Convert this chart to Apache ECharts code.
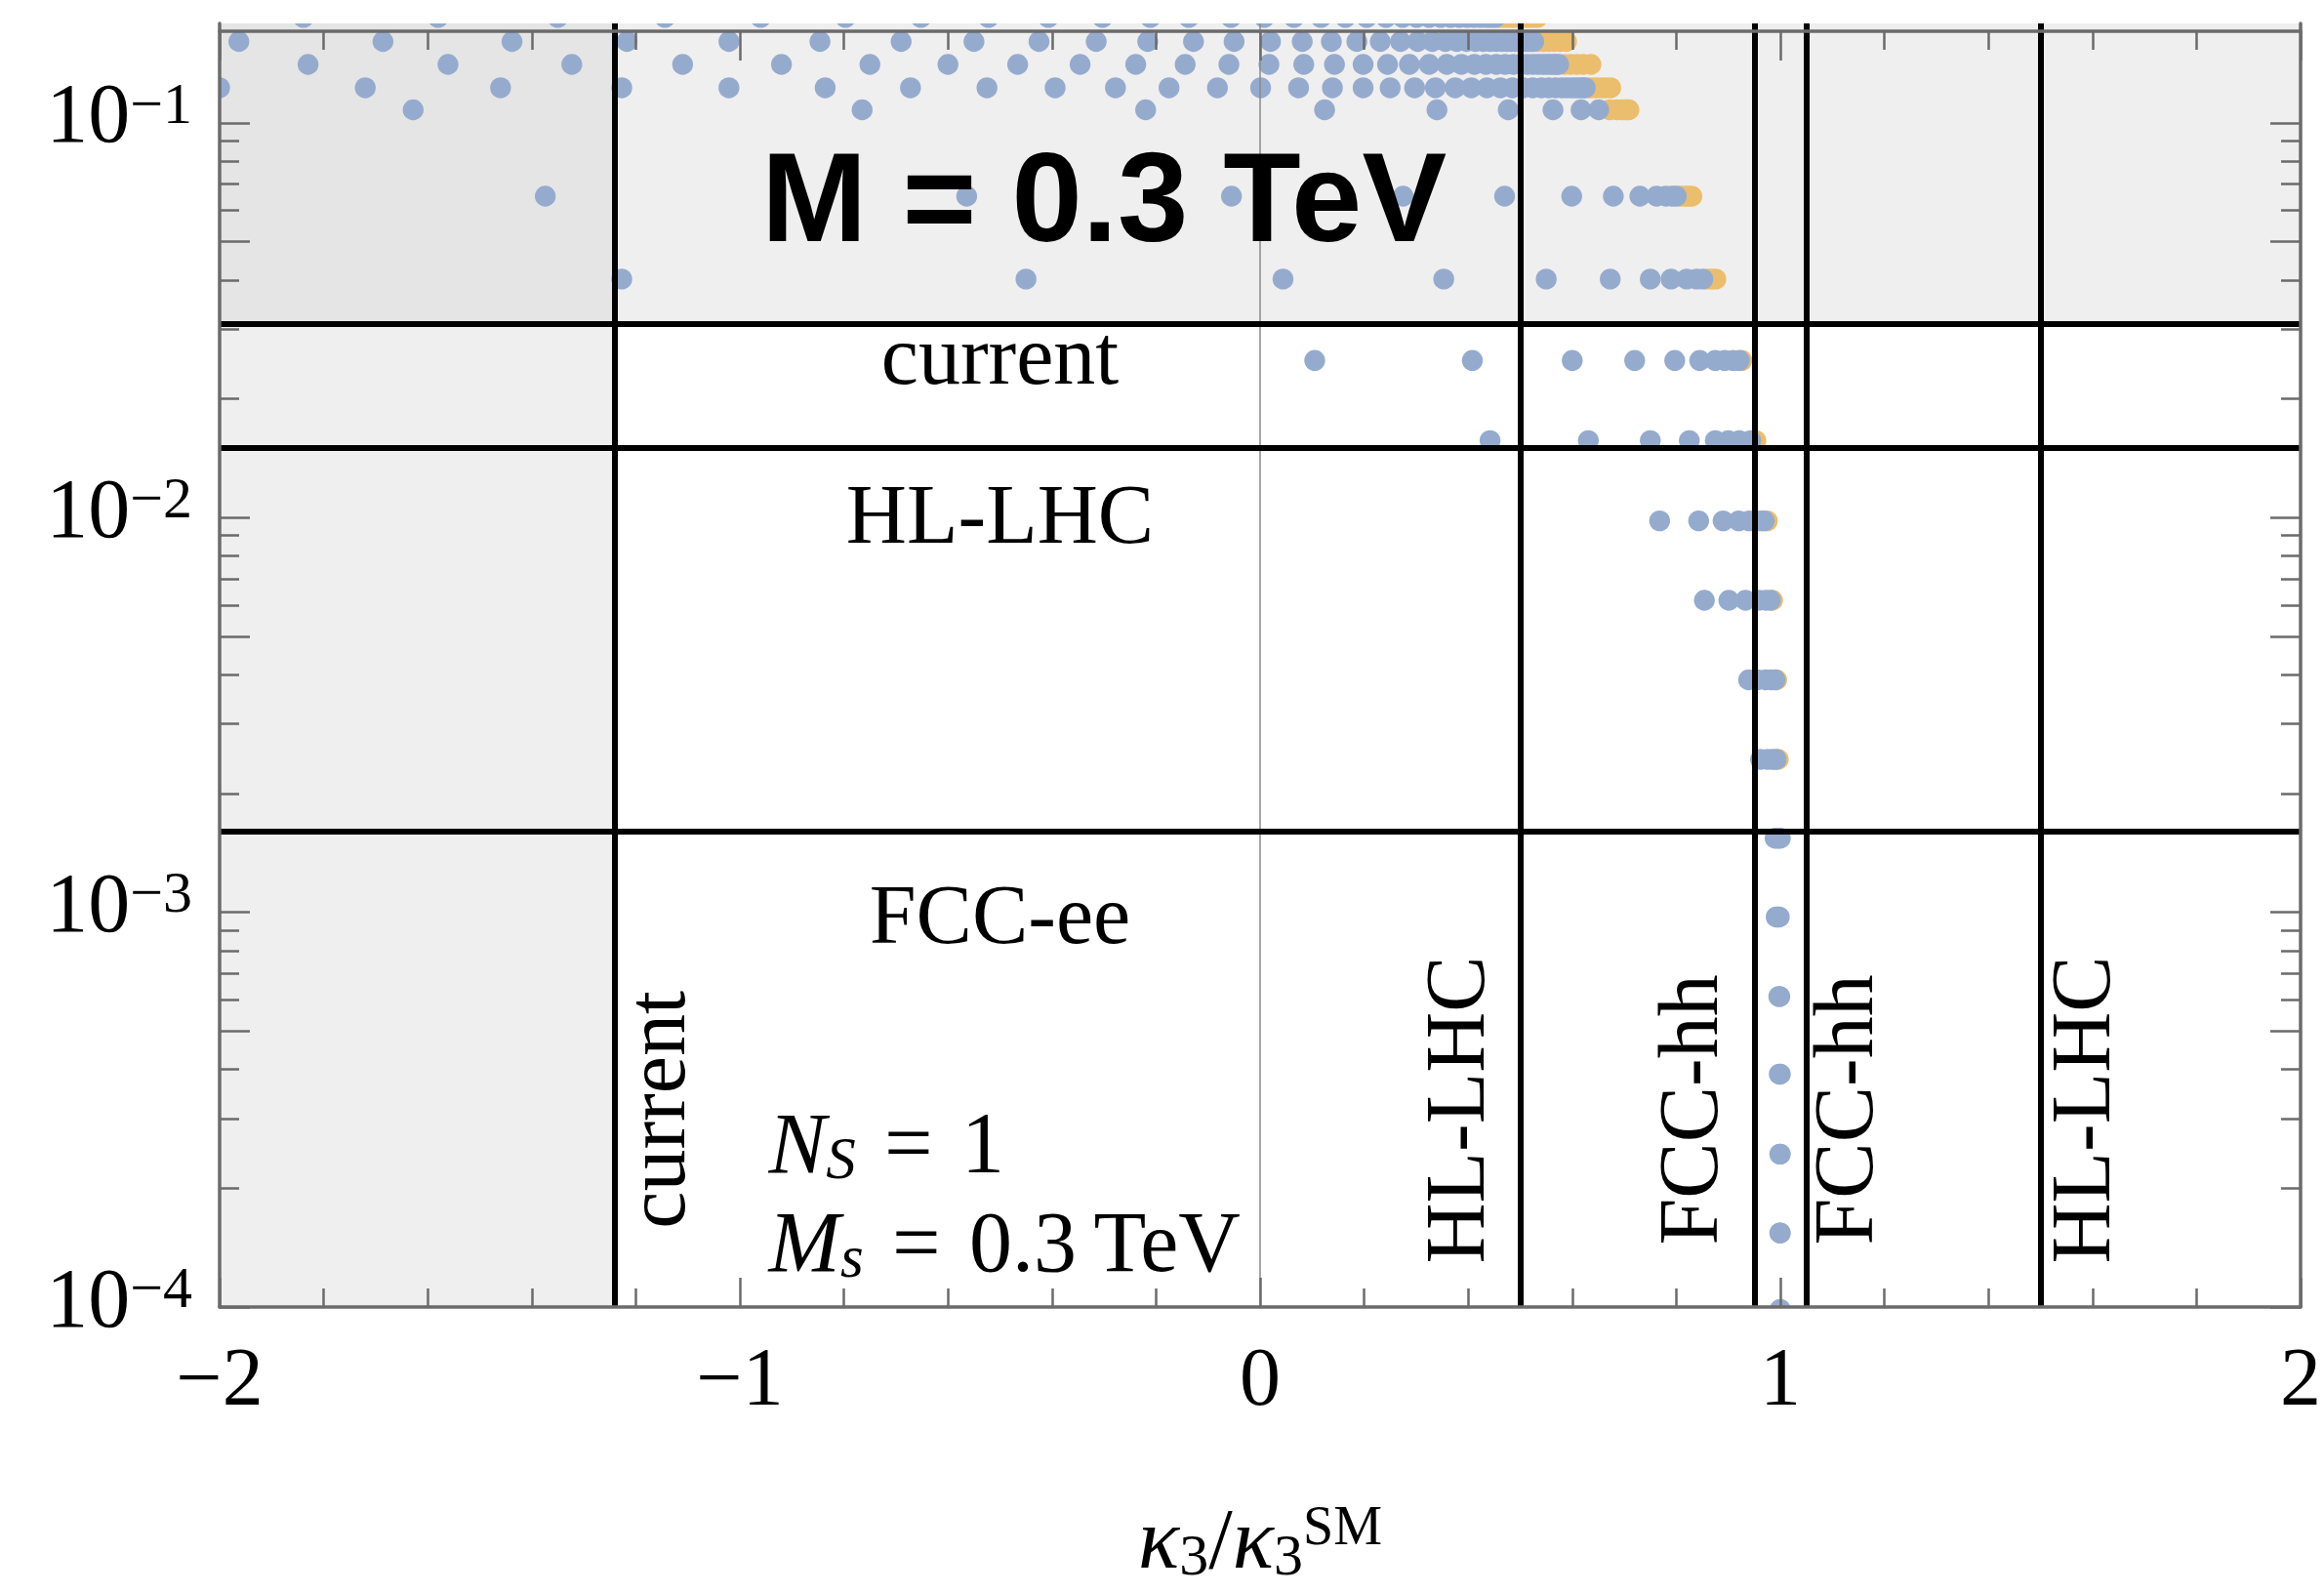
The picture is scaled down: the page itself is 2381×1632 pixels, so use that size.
<!DOCTYPE html>
<html>
<head>
<meta charset="utf-8">
<script src="https://cdn.jsdelivr.net/npm/echarts@6/dist/echarts.min.js"></script>
<style>
  html, body { margin: 0; padding: 0; background: #ffffff; }
  #chart { width: 2381px; height: 1632px; }
</style>
</head>
<body>
<div id="chart"></div>
<script>
// Coupling value of each scan row (log scale), top row first
const rowY = [0.185, 0.1607, 0.1406, 0.1227, 0.1079, 0.0652, 0.0402, 0.0250, 0.01567,
  0.00981, 0.00617, 0.00388, 0.00244, 0.00154, 0.000973, 0.000612, 0.000389, 0.000244,
  0.000154, 0.0000985];

// kappa_3 / kappa_3^SM of the scan points in each row (blue set)
const blueX = [
  [-1.839, -1.580, -1.350, -1.144, -0.960, -0.797, -0.652, -0.522, -0.407, -0.303, -0.211, -0.137, -0.056, 0.008, 0.065, 0.117, 0.164, 0.205, 0.242, 0.274, 0.301, 0.325, 0.347, 0.366, 0.383, 0.398, 0.411, 0.423, 0.434, 0.443, 0.452],
  [-1.963, -1.686, -1.438, -1.217, -1.021, -0.846, -0.690, -0.550, -0.425, -0.315, -0.216, -0.128, -0.050, 0.020, 0.081, 0.137, 0.186, 0.231, 0.270, 0.303, 0.331, 0.356, 0.378, 0.397, 0.414, 0.429, 0.442, 0.454, 0.465, 0.474, 0.483, 0.490, 0.497, 0.503, 0.509, 0.514, 0.518, 0.522, 0.526],
  [-1.830, -1.561, -1.323, -1.110, -0.920, -0.750, -0.600, -0.466, -0.346, -0.239, -0.144, -0.060, 0.017, 0.084, 0.143, 0.198, 0.245, 0.287, 0.325, 0.359, 0.387, 0.412, 0.434, 0.454, 0.471, 0.487, 0.501, 0.513, 0.524, 0.534, 0.543, 0.551, 0.558, 0.564, 0.569, 0.574],
  [-2.000, -1.720, -1.460, -1.227, -1.021, -0.836, -0.672, -0.525, -0.394, -0.278, -0.175, -0.082, 0.001, 0.074, 0.139, 0.198, 0.250, 0.297, 0.337, 0.375, 0.406, 0.436, 0.462, 0.485, 0.506, 0.524, 0.541, 0.555, 0.568, 0.580, 0.590, 0.599, 0.607, 0.615, 0.621, 0.625],
  [-1.628, -0.765, -0.220, 0.124, 0.340, 0.477, 0.563, 0.617, 0.651],
  [-1.374, -0.564, -0.055, 0.275, 0.470, 0.599, 0.679, 0.730, 0.762, 0.780, 0.792, 0.800],
  [-1.227, -0.450, 0.044, 0.353, 0.550, 0.673, 0.750, 0.790, 0.820, 0.839, 0.851],
  [0.105, 0.408, 0.600, 0.720, 0.797, 0.845, 0.875, 0.893, 0.909, 0.921],
  [0.442, 0.631, 0.750, 0.825, 0.875, 0.900, 0.921, 0.943],
  [0.768, 0.843, 0.890, 0.920, 0.940, 0.953, 0.963, 0.969],
  [0.854, 0.901, 0.933, 0.959, 0.972, 0.981],
  [0.939, 0.956, 0.972, 0.983, 0.990],
  [0.962, 0.975, 0.985, 0.992],
  [0.990, 0.995, 1.000],
  [0.992, 0.995, 0.998],
  [0.997, 0.999],
  [0.998, 1.000],
  [0.999, 1.000],
  [0.999, 1.000],
  [0.9995, 1.000]
];

// Points of the orange set that reach beyond the blue ones, per row
const orangeX = [
  [0.462, 0.472, 0.482, 0.492, 0.502, 0.512, 0.522, 0.533],
  [0.535, 0.545, 0.555, 0.565, 0.577, 0.589],
  [0.585, 0.597, 0.609, 0.621, 0.636],
  [0.635, 0.645, 0.655, 0.664, 0.674],
  [0.672, 0.686, 0.695, 0.701, 0.705, 0.709],
  [0.808, 0.816, 0.823, 0.830],
  [0.860, 0.868, 0.876],
  [0.926],
  [0.953],
  [0.975],
  [0.985],
  [0.993],
  [0.996],
  [], [], [], [], [], [], []
];

// Experimental reach on kappa_3 (vertical) and on the coupling (horizontal)
const kappaBounds = [-1.24, 0.5, 0.95, 1.05, 1.5];
const couplingBounds = [0.031, 0.015, 0.0016];

// Axis ticks
const yLabelValues = [1e-4, 1e-3, 1e-2, 1e-1];
const yLongTicks = [1e-4, 5e-4, 1e-3, 5e-3, 1e-2, 5e-2, 1e-1];
const yShortTicks = [2e-4, 3e-4, 4e-4, 6e-4, 7e-4, 8e-4, 9e-4,
  2e-3, 3e-3, 4e-3, 6e-3, 7e-3, 8e-3, 9e-3,
  2e-2, 3e-2, 4e-2, 6e-2, 7e-2, 8e-2, 9e-2];

const X_MIN = -2, X_MAX = 2;
const Y_MIN = 1e-4, Y_MAX = 0.1786;

const SERIF = 'Liberation Serif';
const BLUE = '#95abce';
const ORANGE = '#ebbe6d';
const DOT_R = 10.7;

function rowsToPoints(rows) {
  const pts = [];
  rows.forEach((xs, i) => xs.forEach(x => pts.push([x, rowY[i]])));
  return pts;
}

function dotSeries(name, points, color) {
  return {
    type: 'custom',
    name: name,
    data: points,
    encode: { x: 0, y: 1 },
    clip: true,
    silent: true,
    animation: false,
    z: 2,
    renderItem: function (params, api) {
      const c = api.coord([api.value(0), api.value(1)]);
      return { type: 'circle', shape: { cx: c[0], cy: c[1], r: DOT_R }, style: { fill: color } };
    }
  };
}

const frameLine = { color: '#6b6b6b', width: 3.5 };
const tickLine = { color: '#6b6b6b', width: 2.5 };

const xBase = {
  type: 'value', min: X_MIN, max: X_MAX, interval: 1, z: 10,
  splitLine: { show: false },
  axisLine: { show: true, onZero: false, lineStyle: frameLine },
  axisTick: { show: true, inside: true, length: 30, lineStyle: tickLine },
  minorTick: { show: true, splitNumber: 5, length: 19, lineStyle: tickLine }
};

const yBase = {
  type: 'log', logBase: 10, min: Y_MIN, max: Y_MAX, z: 10,
  splitLine: { show: false },
  minorTick: { show: false }
};

function yAxisSide(position, long) {
  return Object.assign({}, yBase, {
    position: position,
    axisLine: { show: long, onZero: false, lineStyle: frameLine },
    axisTick: { show: true, inside: true, length: long ? 31 : 20, lineStyle: tickLine,
      customValues: long ? yLongTicks : yShortTicks },
    axisLabel: { show: false }
  });
}

const labelFont = { fontFamily: SERIF, color: '#000' };

function textMark(coord, text, size, extra) {
  return {
    coord: coord,
    symbolSize: 0,
    label: Object.assign({ show: true, formatter: text, fontFamily: SERIF, fontSize: size,
      color: '#000', position: 'inside' }, extra || {})
  };
}

const mathRich = {
  i: Object.assign({ fontSize: 88, lineHeight: 88, fontStyle: 'italic' }, labelFont),
  r: Object.assign({ fontSize: 88, lineHeight: 88 }, labelFont),
  sb: Object.assign({ fontSize: 61, lineHeight: 44, verticalAlign: 'bottom', fontStyle: 'italic' }, labelFont)
};

const chart = echarts.init(document.getElementById('chart'), null, { renderer: 'canvas' });

const yLeftLabelled = yAxisSide('left', true);
yLeftLabelled.axisLabel = {
  show: true,
  customValues: yLabelValues,
  margin: 28,
  padding: [0, 0, 6, 0],
  formatter: function (v) {
    const e = Math.round(Math.log10(v));
    return '{b|10}{s|\u2212' + (-e) + '}';
  },
  rich: {
    b: Object.assign({ fontSize: 86, lineHeight: 86 }, labelFont),
    s: Object.assign({ fontSize: 60, lineHeight: 34, verticalAlign: 'top' }, labelFont)
  }
};

const option = {
  backgroundColor: '#ffffff',
  animation: false,
  grid: { left: 225, right: 22, top: 24, bottom: 283, containLabel: false },
  xAxis: [
    Object.assign({}, xBase, {
      position: 'bottom',
      axisLabel: Object.assign({ margin: 36, fontSize: 84,
        formatter: v => (v < 0 ? '\u2212' : '') + Math.abs(v) }, labelFont),
      name: '{i|\u03ba}{sb|3}{r|/}{i|\u03ba}{sb|3}{sp|SM}',
      nameLocation: 'middle',
      nameGap: 200,
      nameTextStyle: {
        rich: {
          i: Object.assign({ fontSize: 88, lineHeight: 88, fontStyle: 'italic' }, labelFont),
          r: Object.assign({ fontSize: 88, lineHeight: 88 }, labelFont),
          sb: Object.assign({ fontSize: 60, lineHeight: 44, verticalAlign: 'bottom' }, labelFont),
          sp: Object.assign({ fontSize: 56, lineHeight: 40, verticalAlign: 'top' }, labelFont)
        }
      }
    }),
    Object.assign({}, xBase, {
      position: 'top',
      offset: -8,
      axisLabel: { show: false }
    })
  ],
  yAxis: [
    yLeftLabelled,
    yAxisSide('left', false),
    yAxisSide('right', true),
    yAxisSide('right', false)
  ],
  series: [
    {
      // excluded regions
      type: 'line', data: [], silent: true,
      markArea: {
        silent: true,
        itemStyle: { color: '#efefef' },
        data: [
          [{ yAxis: couplingBounds[0] }, { yAxis: Y_MAX }],
          [{ xAxis: X_MIN }, { xAxis: kappaBounds[0] }],
          [{ xAxis: X_MIN, yAxis: couplingBounds[0], itemStyle: { color: '#e5e5e5' } },
           { xAxis: kappaBounds[0], yAxis: Y_MAX }]
        ]
      }
    },
    dotSeries('orange', rowsToPoints(orangeX), ORANGE),
    dotSeries('blue', rowsToPoints(blueX), BLUE),
    {
      // reach lines
      type: 'line', data: [], silent: true,
      markLine: {
        silent: true,
        precision: 8,
        symbol: ['none', 'none'],
        label: { show: false },
        animation: false,
        lineStyle: { color: '#000', width: 6, type: 'solid' },
        data: [{ xAxis: 0, lineStyle: { color: '#8a8a8a', width: 1.5, type: 'solid' } }]
          .concat(kappaBounds.map(v => ({ xAxis: v })))
          .concat(couplingBounds.map(v => ({ yAxis: v })))
      }
    },
    {
      // annotations
      type: 'line', data: [], silent: true,
      markPoint: {
        silent: true,
        animation: false,
        symbol: 'circle',
        data: [
          textMark([-0.30, 0.0615], 'M = 0.3 TeV', 130,
            { fontFamily: 'Liberation Sans', fontWeight: 'bold' }),
          textMark([-0.50, 0.0249], 'current', 86),
          textMark([-0.50, 0.00984], 'HL-LHC', 86),
          textMark([-0.50, 0.00095], 'FCC-ee', 86),
          textMark([-1.15, 3.16e-4], 'current', 86, { rotate: 90 }),
          textMark([0.388, 3.16e-4], 'HL-LHC', 86, { rotate: 90 }),
          textMark([0.835, 3.16e-4], 'FCC-hh', 86, { rotate: 90 }),
          textMark([1.134, 3.16e-4], 'FCC-hh', 86, { rotate: 90 }),
          textMark([1.589, 3.16e-4], 'HL-LHC', 86, { rotate: 90 }),
          textMark([-0.9445, 2.51e-4], '{i|N}{sb|S}{r|\u2004=\u20041}', 88, {
            position: 'right', distance: 0, rich: mathRich
          }),
          textMark([-0.9445, 1.41e-4], '{i|M}{sb|s}{r|\u2004=\u20040.3\u2009TeV}', 88, {
            position: 'right', distance: 0, rich: mathRich
          })
        ]
      }
    }
  ]
};

chart.setOption(option);
</script>
</body>
</html>
